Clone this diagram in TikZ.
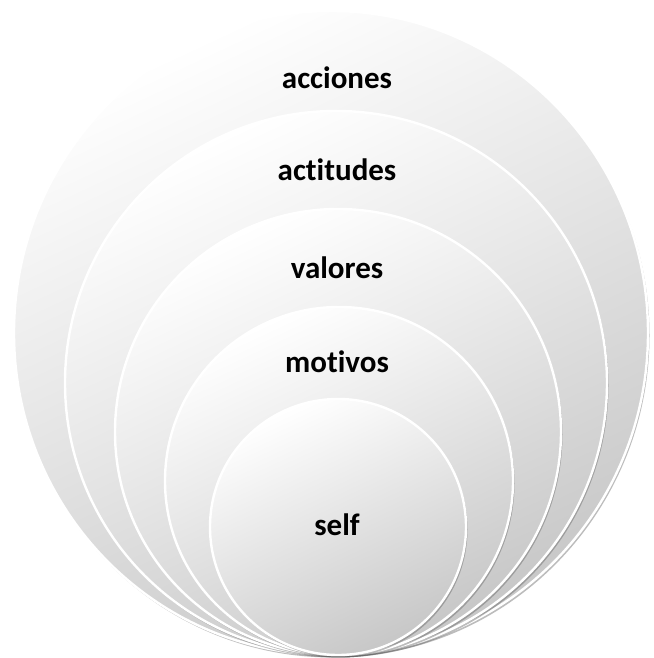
\documentclass[tikz,border=0pt]{standalone}
\usepackage{fontspec}
\setmainfont[Ligatures=NoCommon]{Carlito}
\usetikzlibrary{shadows,shapes.geometric}
\tikzset{
  ring/.style={ellipse, inner sep=0pt, outer sep=0pt,
    top color=white, bottom color=black!22, shading angle=25,
    draw=white, line width=2.4pt,
    drop shadow={shadow xshift=1.5pt, shadow yshift=-2.5pt, opacity=0.4, fill=black!65}},
  lbl/.style={font=\bfseries\fontsize{31}{36}\selectfont, text=black, inner sep=0pt}
}
\begin{document}
\begin{tikzpicture}[x=1pt,y=1pt]
\useasboundingbox (0,0) rectangle (653,658);
\fill[white] (0,0) rectangle (653,658);
\node[ring, minimum width=634pt, minimum height=644pt] (c1) at (331,325) {};
\node[ring, minimum width=542pt, minimum height=544pt] (c2) at (336,275) {};
\node[ring, minimum width=446pt, minimum height=446pt] (c3) at (338,226) {};
\node[ring, minimum width=348pt, minimum height=348pt] (c4) at (339,177) {};
\node[ring, minimum width=256pt, minimum height=256pt] (c5) at (338,131) {};
\node[lbl] (t1) at (337,580) {acciones};
\node[lbl] (t2) at (337,488) {actitudes};
\node[lbl] (t3) at (337,390) {valores};
\node[lbl] (t4) at (337,296) {motivos};
\node[lbl] (t5) at (337,133) {self};
\end{tikzpicture}
\end{document}
